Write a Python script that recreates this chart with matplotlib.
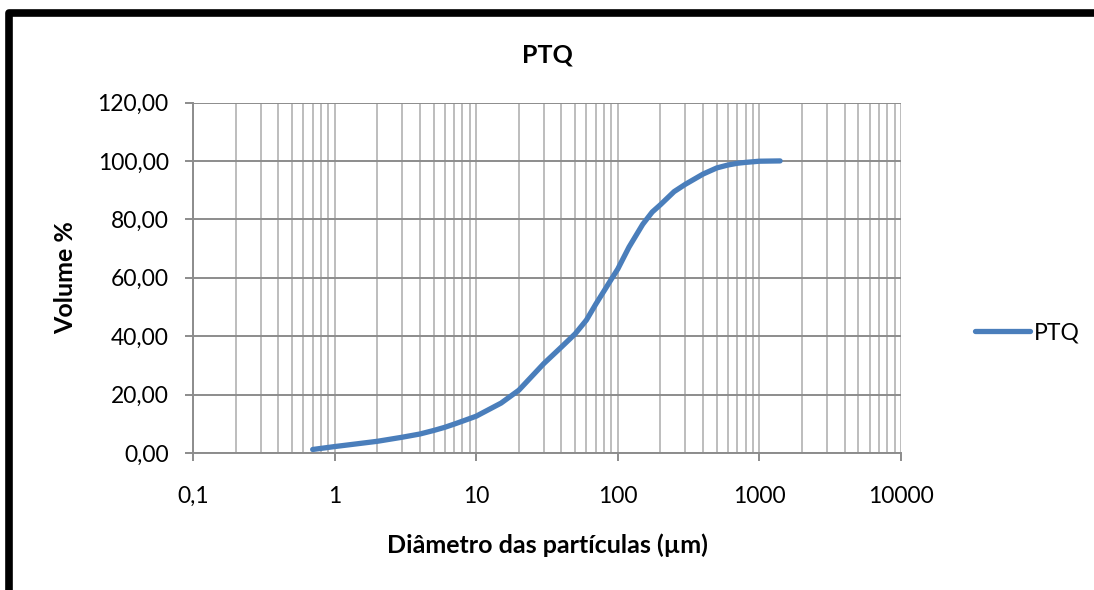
import matplotlib
matplotlib.use("Agg")
import matplotlib.pyplot as plt
from matplotlib.lines import Line2D
from matplotlib.ticker import FixedLocator, FuncFormatter, LogLocator, NullFormatter

plt.rcParams['font.family'] = ['Lato', 'DejaVu Sans']

# particle size distribution, cumulative volume
diametro = [0.7, 1, 2, 3, 4, 5, 6, 7, 8, 10, 15, 20, 30, 40, 50, 60, 70, 80, 90,
            100, 120, 150, 175, 200, 250, 300, 400, 500, 600, 700, 800, 1000, 1400]
volume = [1.2, 2.2, 4.0, 5.4, 6.5, 7.7, 8.8, 9.9, 10.9, 12.6, 17.1, 21.5, 30.6, 36.3,
          40.8, 45.5, 51.0, 55.5, 59.5, 63.0, 70.5, 78.3, 82.5, 85.0, 89.5, 92.0,
          95.5, 97.6, 98.6, 99.2, 99.5, 99.9, 100.0]
serie = "PTQ"
x_ticks = [0.1, 1, 10, 100, 1000, 10000]
y_ticks = [0, 20, 40, 60, 80, 100, 120]

W, H = 1094, 590
fig = plt.figure(figsize=(W / 100, H / 100), dpi=100)
ax = fig.add_axes([193 / W, 1 - 453 / H, 708 / W, 350.5 / H])

blue = "#4A7EBB"
ax.plot(diametro, volume, color=blue, lw=3.8, solid_capstyle="round",
        solid_joinstyle="round", label=serie)

ax.set_xscale("log")
ax.set_xlim(0.1, 10000)
ax.set_ylim(0, 120)
ax.xaxis.set_major_locator(FixedLocator(x_ticks))
ax.xaxis.set_minor_locator(LogLocator(base=10, subs=range(2, 10)))
ax.xaxis.set_minor_formatter(NullFormatter())
ax.xaxis.set_major_formatter(FuncFormatter(lambda v, p: ("%g" % v).replace(".", ",")))
ax.yaxis.set_major_locator(FixedLocator(y_ticks))
ax.yaxis.set_major_formatter(FuncFormatter(lambda v, p: ("%.2f" % v).replace(".", ",")))

ax.grid(True, axis="x", which="both", color="#BDBDBD", lw=1.4)
ax.grid(True, axis="y", which="major", color="#8C8C8C", lw=1.4)
ax.set_axisbelow(True)

for side in ["top", "right"]:
    ax.spines[side].set_visible(False)
for side in ["left", "bottom"]:
    ax.spines[side].set_color("#8C8C8C")
    ax.spines[side].set_linewidth(1.4)

ax.tick_params(axis="x", which="major", direction="out", length=5.5, width=1.4,
               color="#8C8C8C", pad=18, labelsize=16.5)
ax.tick_params(axis="x", which="minor", length=0)
ax.tick_params(axis="y", direction="out", length=5.5, width=1.4,
               color="#8C8C8C", pad=12, labelsize=16.5)

ax.set_title(serie, fontsize=18, fontweight="bold", pad=29)
ax.set_xlabel("Diâmetro das partículas (µm)", fontsize=18, fontweight="bold", labelpad=19)
ax.set_ylabel("Volume %", fontsize=18, fontweight="bold", labelpad=15)

ax.legend(loc="center left", bbox_to_anchor=(975 / W, 1 - 333 / H),
          bbox_transform=fig.transFigure, frameon=False, fontsize=16.5,
          handlelength=2.4, handletextpad=0.15, borderpad=0, borderaxespad=0)

# black outer frame (left and top edges)
fig.add_artist(Line2D([8.8 / W, 8.8 / W, 1.05], [-0.05, 1 - 13 / H, 1 - 13 / H],
                      transform=fig.transFigure, color="black", lw=5.5,
                      solid_joinstyle="round"))

fig.savefig("out.png", dpi=100)
